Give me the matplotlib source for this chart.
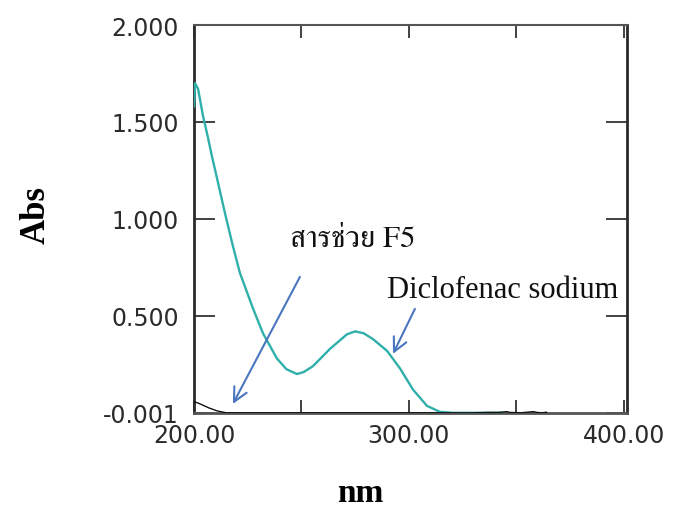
import matplotlib
matplotlib.use("Agg")
import matplotlib.pyplot as plt
from matplotlib import font_manager

# ---------------- data ----------------
diclo_nm = [200.0, 200.5, 201.9, 204.2, 206.5, 208.4, 210.7, 214.4, 218.1, 221.4,
            227.4, 232.1, 238.6, 243.0, 247.9, 251.0, 255.3, 263.3, 271.2, 275.0,
            279.0, 283.3, 289.8, 295.8, 301.9, 308.4, 314.4, 320.5, 344.0]
diclo_abs = [1.58, 1.70, 1.67, 1.53, 1.42, 1.32, 1.21, 1.03, 0.86, 0.72,
             0.54, 0.41, 0.28, 0.225, 0.20, 0.21, 0.24, 0.33, 0.405, 0.42,
             0.41, 0.38, 0.32, 0.23, 0.12, 0.036, 0.005, 0.0, 0.0]

f5_nm = [200.0, 202.0, 204.0, 207.0, 210.7, 215.0, 330.0, 337.0, 342.0, 345.6,
         347.0, 352.0, 358.0, 359.5, 362.0, 364.0]
f5_abs = [0.057, 0.05, 0.04, 0.025, 0.01, 0.0, 0.0, 0.002, 0.002, 0.006,
          0.002, 0.0, 0.006, 0.002, 0.0, 0.003]

x_major = [200, 300, 400]
x_minor = [250, 350]
x_labels = ["200.00", "300.00", "400.00"]
y_ticks = [-0.001, 0.5, 1.0, 1.5, 2.0]
y_labels = ["-0.001", "0.500", "1.000", "1.500", "2.000"]

label_f5 = "สารช่วย F5"
label_diclo = "Diclofenac sodium"
x_title = "nm"
y_title = "Abs"

# ---------------- find a Thai-capable font ----------------
def thai_families():
    serif, other = [], []
    try:
        from fontTools.ttLib import TTFont
    except Exception:
        return []
    seen = set()
    for f in font_manager.fontManager.ttflist:
        if f.name in seen:
            continue
        try:
            tt = TTFont(f.fname, fontNumber=0, lazy=True)
            cmap = tt.getBestCmap() or {}
            if 0x0E2A in cmap and 0x0E23 in cmap and 0x0E48 in cmap:
                seen.add(f.name)
                n = f.name.lower()
                if "serif" in n or "norasi" in n or "kinnari" in n:
                    serif.append(f.name)
                else:
                    other.append(f.name)
        except Exception:
            pass
    return serif + other

thai = thai_families()
thai_family = (thai[:1] if thai else []) + ["Liberation Serif", "DejaVu Sans"]

# ---------------- figure ----------------
W, H = 678, 510
fig = plt.figure(figsize=(W / 100, H / 100), dpi=100)
ax = fig.add_axes([194 / W, 1 - 414 / H, (627 - 194) / W, (414 - 26) / H])

teal = "#2fb0aa"
ax.plot(diclo_nm, diclo_abs, color=teal, lw=1.7, zorder=3)
ax.plot(f5_nm, f5_abs, color="#111111", lw=1.0, zorder=4)

ax.set_xlim(200, 401.5)
ax.set_ylim(-0.001, 2.0)

ax.set_xticks(x_major)
ax.set_xticklabels(x_labels)
ax.set_xticks(x_minor, minor=True)
ax.set_yticks(y_ticks)
ax.set_yticklabels(y_labels)

for lab in ax.get_xticklabels() + ax.get_yticklabels():
    lab.set_fontfamily("DejaVu Sans")
    lab.set_fontsize(17)
    lab.set_color("#2b2b2b")

ax.tick_params(axis="x", which="both", direction="in", top=True, bottom=True,
               length=9.5, width=1.3, color="#333333", pad=7)
ax.tick_params(axis="y", which="both", direction="in", left=True, right=True,
               length=15, width=1.3, color="#333333", pad=11)

for side in ["left", "right", "bottom"]:
    ax.spines[side].set_linewidth(2.0)
    ax.spines[side].set_color("#2a2a2a")
ax.spines["top"].set_linewidth(1.5)
ax.spines["top"].set_color("#555555")
ax.spines["bottom"].set_color("#555555")

# annotations
arrow_col = "#4a76c0"
ax.annotate("", xy=(218.1, 0.046), xytext=(249.3, 0.701),
            arrowprops=dict(arrowstyle="->,head_length=1.0,head_width=0.5",
                            color=arrow_col, lw=1.5, shrinkA=0, shrinkB=0), zorder=5)
ax.annotate("", xy=(292.6, 0.304), xytext=(302.8, 0.536),
            arrowprops=dict(arrowstyle="->,head_length=1.0,head_width=0.5",
                            color=arrow_col, lw=1.5, shrinkA=0, shrinkB=0), zorder=5)

ax.text(244.7, 0.861, label_f5, family=thai_family, fontsize=22, color="#111111",
        ha="left", va="baseline", zorder=6)
ax.text(289.8, 0.598, label_diclo, family=["Liberation Serif", "DejaVu Serif"],
        fontsize=22, color="#111111", ha="left", va="baseline", zorder=6, clip_on=False)

fig.text(36 / W, 1 - 215 / H, y_title, family=["Liberation Serif", "DejaVu Serif"],
         fontsize=25, fontweight="bold", rotation=90, ha="center", va="center")
fig.text(360 / W, 1 - 502 / H, x_title, family=["Liberation Serif", "DejaVu Serif"],
         fontsize=24, fontweight="bold", ha="center", va="baseline")

fig.savefig("out.png", dpi=100)
